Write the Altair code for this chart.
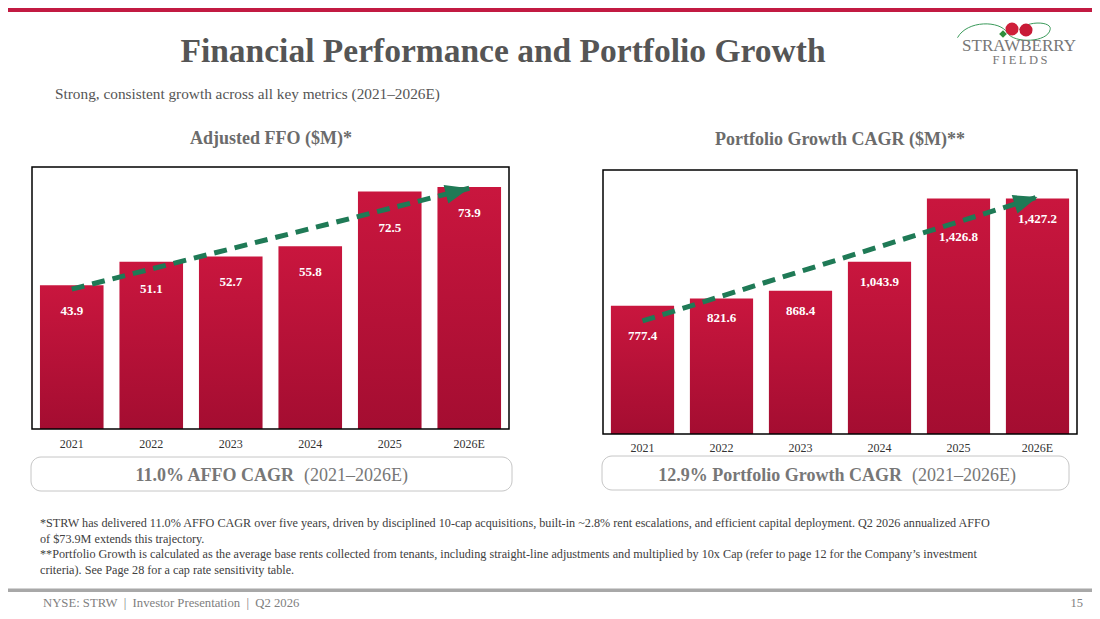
import math

import altair as alt
import pandas as pd

years = ['2021', '2022', '2023', '2024', '2025', '2026E']
affo = [43.9, 51.1, 52.7, 55.8, 72.5, 73.9]
portfolio = [777.4, 821.6, 868.4, 1043.9, 1426.8, 1427.2]

# dashed trend arrows: value at the start (2021) and at the arrow tip (2026E)
affo_trend = [42.7, 73.5]
portfolio_trend = [685.0, 1436.0]

FONT = 'Liberation Serif'
GREY = '#555555'
GREEN = '#1f7a56'
W, H = 1084, 603
ARROW = 'M0,0L-2,-0.8L-2,0.8Z'
NB = '\u00a0'

one = pd.DataFrame({'k': [0]})

bar_fill = alt.LinearGradient(
	gradient='linear', x1=0, x2=0, y1=0, y2=1,
	stops=[alt.GradientStop(color='#c9163e', offset=0), alt.GradientStop(color='#a40d31', offset=1)]
)


def note(text, x, y, size, color=GREY, weight='normal', align='left', baseline='alphabetic'):
	return alt.Chart(one).mark_text(
		text=text, font=FONT, fontSize=size, fontWeight=weight, color=color, align=align, baseline=baseline
	).encode(x=alt.value(x), y=alt.value(y))


def box(x0, x1, y0, y1, **style):
	return alt.Chart(one).mark_rect(**style).encode(
		x=alt.value(x0), x2=alt.value(x1), y=alt.value(y0), y2=alt.value(y1)
	)


def panel(values, trend, left, right, top, bottom, ymax, fmt, label_gap, trend_gap, year_y):
	n = len(values)
	ppu = (bottom - top) / ymax
	line = [trend[0] + (trend[1] - trend[0]) * i / (n - 1) for i in range(n)]
	# keep each value label inside its bar and clear of the dashed arrow
	label_y = [min(v - label_gap / ppu, t - trend_gap / ppu) for v, t in zip(values, line)]
	df = pd.DataFrame({'year': years, 'value': values, 'label_y': label_y})
	tdf = pd.DataFrame({'year': [years[0], years[-1]], 'value': trend})

	x = alt.X('year:N', axis=None,
			  scale=alt.Scale(domain=years, range=[left, right], paddingInner=0.2, paddingOuter=0.1))
	yscale = alt.Scale(domain=[0, ymax], range=[bottom, top])

	bars = alt.Chart(df).mark_bar(color=bar_fill).encode(
		x=x, y=alt.Y('value:Q', scale=yscale, axis=None)
	)
	labels = alt.Chart(df).mark_text(
		font=FONT, fontSize=13, fontWeight='bold', color='white', baseline='middle'
	).encode(
		x=x, y=alt.Y('label_y:Q', scale=yscale, axis=None), text=alt.Text('value:Q', format=fmt)
	)
	ticks = alt.Chart(df).mark_text(
		font=FONT, fontSize=12, color='#333333', baseline='middle'
	).encode(x=x, y=alt.value(year_y), text='year:N')
	frame = box(left, right, top, bottom, fillOpacity=0, stroke='black', strokeWidth=1.5)

	step = (right - left) / n
	angle = (360 - math.degrees(math.atan2((trend[1] - trend[0]) * ppu, (n - 1) * step))) % 360
	dashes = alt.Chart(tdf).mark_line(
		color=GREEN, strokeWidth=5, strokeDash=[13, 8], strokeCap='butt'
	).encode(x=x, y=alt.Y('value:Q', scale=yscale, axis=None))
	head = alt.Chart(tdf.tail(1)).mark_point(
		shape=ARROW, size=576, filled=True, color=GREEN, opacity=1, strokeWidth=0, angle=angle
	).encode(x=x, y=alt.Y('value:Q', scale=yscale, axis=None))

	return alt.layer(bars, labels, ticks, frame, dashes, head)


def cagr(values):
	return (values[-1] / values[0]) ** (1 / (len(values) - 1)) - 1


left_panel = panel(affo, affo_trend, 24, 501, 159, 421, 80, '.1f', 26, 20, 436)
right_panel = panel(portfolio, portfolio_trend, 595, 1069, 162, 426, 1600, ',.1f', 20, 15, 440)

footnotes = [
	'*STRW has delivered 11.0% AFFO CAGR over five years, driven by disciplined 10-cap acquisitions, '
	'built-in ~2.8% rent escalations, and efficient capital deployment. Q2 2026 annualized AFFO',
	'of $73.9M extends this trajectory.',
	'**Portfolio Growth is calculated as the average base rents collected from tenants, including '
	'straight-line adjustments and multiplied by 10x Cap (refer to page 12 for the Company\u2019s investment',
	'criteria). See Page 28 for a cap rate sensitivity table.',
]
footer = f'NYSE: STRW{NB}{NB}|{NB}{NB}Investor Presentation{NB}{NB}|{NB}{NB}Q2 2026'

layers = [
	box(0, W, 0, 4, color='#c21a42'),
	note('Financial Performance and Portfolio Growth', 495, 54, 33.5, weight='bold', align='center'),
	note('Strong, consistent growth across all key metrics (2021\u20132026E)', 47, 91, 15.3),
	# logo
	alt.Chart(one).mark_point(
		shape='M-1,0.12C-0.8,-0.25-0.1,-0.25 0.05,0.02C0.2,0.25 0.9,0.22 0.95,-0.05C1,-0.22 0.5,-0.25 0.3,-0.05',
		size=9025, filled=False, color='#3a9a5a', strokeWidth=1, opacity=1
	).encode(x=alt.value(997), y=alt.value(24)),
	alt.Chart(one).mark_point(shape='diamond', size=60, filled=True, color='#2f8c3c', opacity=1).encode(
		x=alt.value(995), y=alt.value(26)),
	alt.Chart(one).mark_point(shape='circle', size=170, filled=True, color='#cf1f3a', opacity=1).encode(
		x=alt.value(1004), y=alt.value(21)),
	alt.Chart(one).mark_point(shape='circle', size=170, filled=True, color='#c81a36', opacity=1).encode(
		x=alt.value(1018), y=alt.value(22)),
	note('STRAWBERRY', 1011, 42.5, 17, color='#777777', align='center'),
	note('\u2009'.join('FIELDS'), 1012, 56, 12.5, color='#777777', align='center'),
	# panels
	note('Adjusted FFO ($M)*', 263, 136, 18, color='#6b6b6b', weight='bold', align='center'),
	note('Portfolio Growth CAGR ($M)**', 832, 137, 18, color='#6b6b6b', weight='bold', align='center'),
	left_panel,
	right_panel,
	box(23, 504, 449, 483, fill='white', stroke='#c6c6c6', strokeWidth=1, cornerRadius=10),
	box(594, 1061, 448, 482, fill='white', stroke='#c6c6c6', strokeWidth=1, cornerRadius=10),
	note(f'{cagr(affo):.1%} AFFO CAGR', 286, 473, 18, color='#777777', weight='bold', align='right'),
	note('(2021\u20132026E)', 296, 473, 18, color='#777777'),
	note(f'{cagr(portfolio):.1%} Portfolio Growth CAGR', 894, 473, 18, color='#777777', weight='bold', align='right'),
	note('(2021\u20132026E)', 904, 473, 18, color='#777777'),
]
for i, line in enumerate(footnotes):
	layers.append(note(line, 32, 519 + 15.7 * i, 12.2, color='#404040'))
layers += [
	box(0, W, 580.5, 584, color='#a8a8a8'),
	note(footer, 35, 599, 12.7, color='#808080'),
	note('15', 1075, 599, 12.5, color='#808080', align='right'),
]

chart = alt.layer(*layers).resolve_scale(
	x='independent', y='independent'
).properties(
	width=W, height=H, padding=0, background='white', autosize=alt.AutoSizeParams(type='none')
).configure_view(strokeWidth=0)

chart.save('out.html', embed_options={'renderer': 'svg', 'actions': False})
